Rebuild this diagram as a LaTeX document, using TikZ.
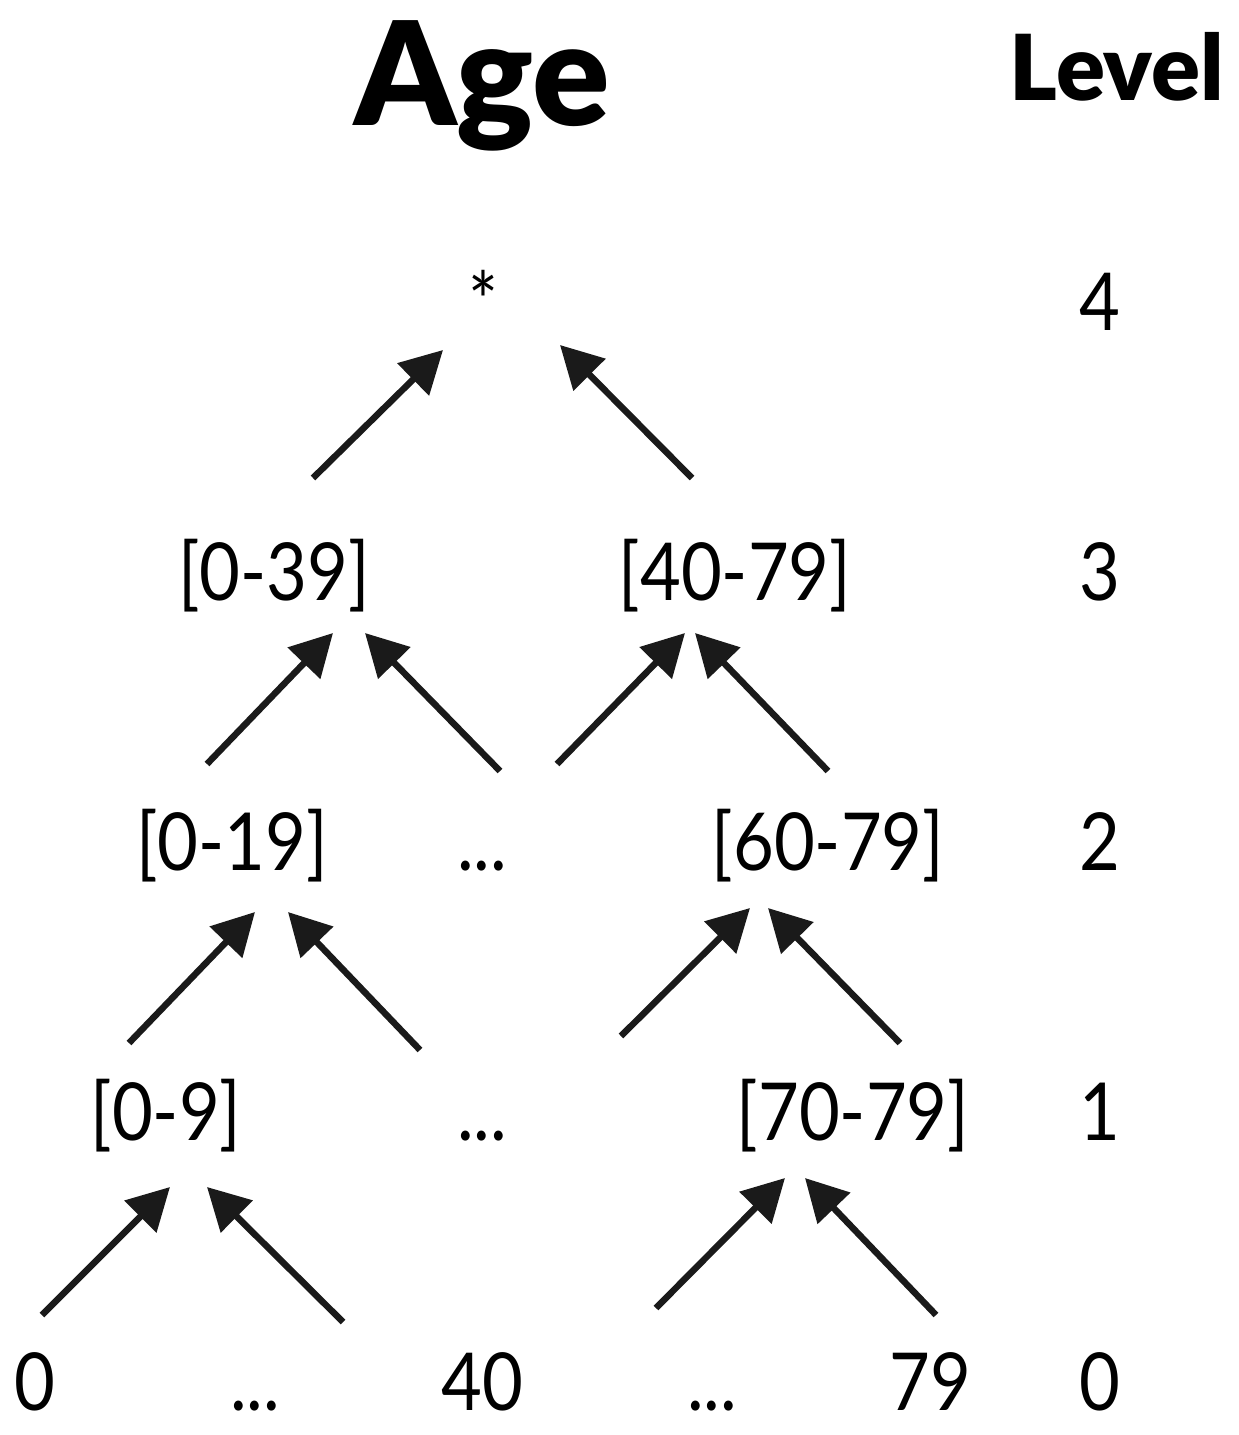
\documentclass[tikz,border=0pt]{standalone}
\usepackage{fontspec}
\setmainfont{Lato}[FakeStretch=0.88]
\newfontfamily\heavyfont{Lato Black}
\usetikzlibrary{arrows.meta}
\definecolor{arr}{HTML}{1A1A1A}
\tikzset{
  lbl/.style={inner sep=0pt, font=\fontsize{80}{96}\selectfont},
  ttl/.style={inner sep=0pt, font=\fontsize{144}{170}\heavyfont},
  lvtitle/.style={inner sep=0pt, font=\fontsize{91}{110}\heavyfont},
  up/.style={draw=arr, line width=6.5pt, -{Triangle[length=42pt,width=44pt]}},
}
\begin{document}
\begin{tikzpicture}[x=1pt,y=-1pt]
\useasboundingbox (0,0) rectangle (1239,1435);
% titles
\node[ttl, anchor=base] (age) at (482,125) {Age};
\node[lvtitle, anchor=base] (lvl) at (1117,100) {Level};
% level numbers
\node[lbl, anchor=base] (n4) at (1100,330) {4};
\node[lbl, anchor=base] (n3) at (1100,600) {3};
\node[lbl, anchor=base] (n2) at (1100,870) {2};
\node[lbl, anchor=base] (n1) at (1100,1140) {1};
\node[lbl, anchor=base] (n0) at (1100,1410) {0};
% level 4
\node[lbl, anchor=base] (star) at (483,330) {*};
% level 3
\node[lbl, anchor=base] (a039) at (274,600) {[0-39]};
\node[lbl, anchor=base] (a4079) at (735,600) {[40-79]};
% level 2
\node[lbl, anchor=base] (a019) at (232,870) {[0-19]};
\node[lbl, anchor=base] (d2) at (482,870) {...};
\node[lbl, anchor=base] (a6079) at (828,870) {[60-79]};
% level 1
\node[lbl, anchor=base] (a09) at (166,1140) {[0-9]};
\node[lbl, anchor=base] (d1) at (482,1140) {...};
\node[lbl, anchor=base] (a7079) at (853,1140) {[70-79]};
% level 0
\node[lbl, anchor=base] (v0) at (35,1410) {0};
\node[lbl, anchor=base] (d0a) at (255,1410) {...};
\node[lbl, anchor=base] (v40) at (482,1410) {40};
\node[lbl, anchor=base] (d0b) at (712,1410) {...};
\node[lbl, anchor=base] (v79) at (930,1410) {79};
% arrow ends
\coordinate (t4a) at (313,478); \coordinate (h4a) at (443,350);
\coordinate (t4b) at (692,478); \coordinate (h4b) at (560,345);
\coordinate (t3a) at (207,764); \coordinate (h3a) at (333,633);
\coordinate (t3b) at (500,771); \coordinate (h3b) at (365,633);
\coordinate (t3c) at (557,764); \coordinate (h3c) at (685,633);
\coordinate (t3d) at (828,771); \coordinate (h3d) at (695,633);
\coordinate (t2a) at (129,1043); \coordinate (h2a) at (255,912);
\coordinate (t2b) at (420,1050); \coordinate (h2b) at (288,912);
\coordinate (t2c) at (621,1036); \coordinate (h2c) at (750,908);
\coordinate (t2d) at (900,1043); \coordinate (h2d) at (768,908);
\coordinate (t1a) at (42,1315); \coordinate (h1a) at (170,1187);
\coordinate (t1b) at (343,1322); \coordinate (h1b) at (207,1187);
\coordinate (t1c) at (656,1308); \coordinate (h1c) at (785,1178);
\coordinate (t1d) at (936,1315); \coordinate (h1d) at (805,1178);
\foreach \p in {4a,4b,3a,3b,3c,3d,2a,2b,2c,2d,1a,1b,1c,1d}
  \draw[up] (t\p) -- (h\p);
\end{tikzpicture}
\end{document}
